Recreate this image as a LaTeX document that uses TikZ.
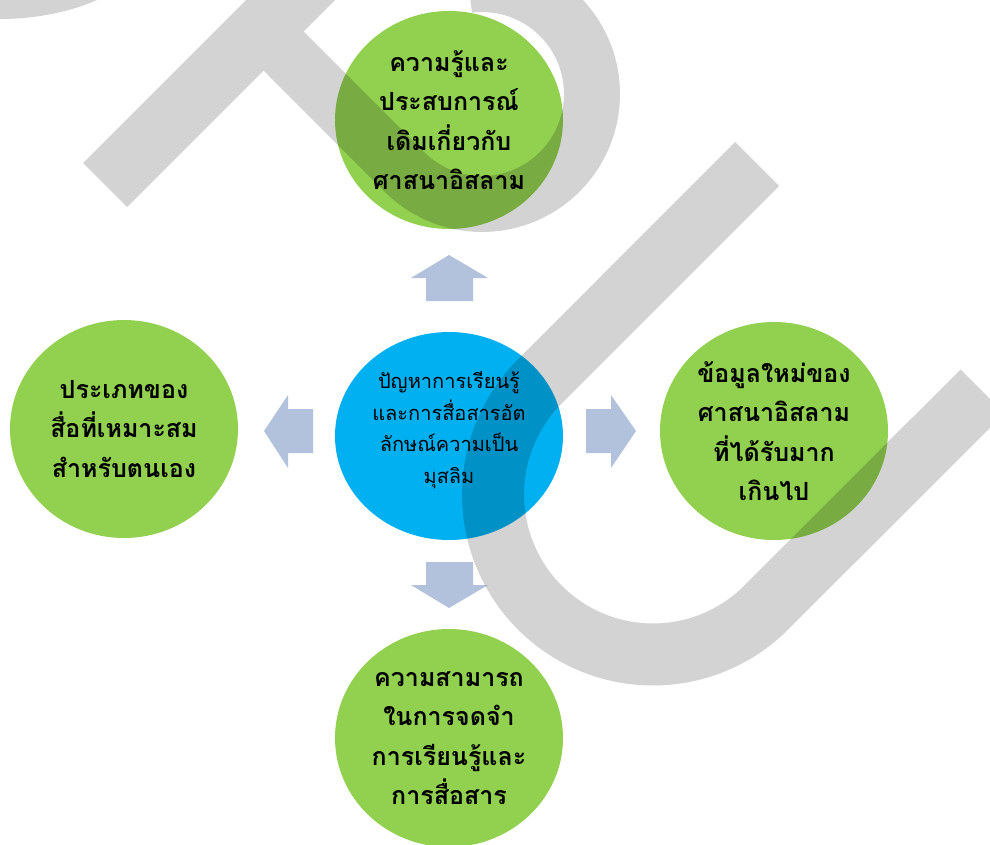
\documentclass[tikz,border=0pt]{standalone}
\usepackage{fontspec}
\newfontfamily\thaifont[Script=Thai]{Loma}
\usetikzlibrary{shapes.geometric}
\definecolor{cgreen}{RGB}{146,208,80}
\definecolor{cblue}{RGB}{0,176,240}
\definecolor{carrow}{RGB}{179,194,220}
\definecolor{wmgray}{RGB}{211,211,211}
\begin{document}
\begin{tikzpicture}[x=1pt,y=-1pt,
  bubble/.style={ellipse, minimum width=228pt, minimum height=218pt, inner sep=0pt, align=center, text=black},
  greenbubble/.style={bubble, fill=cgreen, font=\thaifont\bfseries\fontsize{25}{39.5}\selectfont},
  bluebubble/.style={bubble, fill=cblue, minimum height=208pt},
  bluetext/.style={align=center, inner sep=0pt, text=black, font=\thaifont\fontsize{20}{31.5}\selectfont},
  blockarrow/.style={fill=carrow},
  wm/.style={fill=wmgray}
]
\useasboundingbox (0,0) rectangle (990,845);
\fill[white] (0,0) rectangle (990,845);

\node[bluebubble] (c) at (449,436) {};
\node[bluetext] (ctext) at (449,430) {ปัญหาการเรียนรู้\\และการสื่อสารอัต\\ลักษณ์ความเป็น\\มุสลิม};
\node[greenbubble] (t) at (449,120) {ความรู้และ\\ประสบการณ์\\เดิมเกี่ยวกับ\\ศาสนาอิสลาม};
\node[greenbubble] (l) at (124,429) {ประเภทของ\\สื่อที่เหมาะสม\\สำหรับตนเอง};
\node[greenbubble] (r) at (774,431) {ข้อมูลใหม่ของ\\ศาสนาอิสลาม\\ที่ได้รับมาก\\เกินไป};
\node[greenbubble] (b) at (449,738) {ความสามารถ\\ในการจดจำ\\การเรียนรู้และ\\การสื่อสาร};

% block arrows
\fill[blockarrow] (449,255) -- (488,278) -- (473,278) -- (473,301) -- (426,301) -- (426,278) -- (411,278) -- cycle;
\fill[blockarrow] (449,608) -- (488,585) -- (473,585) -- (473,562) -- (426,562) -- (426,585) -- (411,585) -- cycle;
\fill[blockarrow] (264,431) -- (288,395) -- (288,409) -- (313,409) -- (313,453) -- (288,453) -- (288,468) -- cycle;
\fill[blockarrow] (636,431) -- (611,395) -- (611,409) -- (586,409) -- (586,453) -- (611,453) -- (611,468) -- cycle;

% watermark
\begin{scope}[blend mode=multiply]
\clip (0,0) rectangle (990,845);
\fill[wm] (-5,-5) -- (100,-5) -- (97,0) .. controls (70,12) and (35,19) .. (0,19) -- (-5,19) -- cycle;
\fill[wm] (83,163) -- (266,-20) -- (355,-20) -- (303.5,31.5)
  -- plot[domain=0:232, samples=90] ({482+82*cos(135-\x)},{94+82*sin(135-\x)})
  -- plot[domain=0:232, samples=90] ({482+138*cos(-97+\x)},{94+138*sin(-97+\x)})
  -- (263.5,70.5) -- (127,207) -- cycle;
\fill[wm] (735,142) -- (779,186)
  -- plot[domain=0:180, samples=90] ({653+129*cos(225-\x)},{494.5+129*sin(225-\x)})
  -- (960.5,369.5) -- (1004.5,413.5)
  -- plot[domain=0:180, samples=90] ({653+191*cos(45+\x)},{494.5+191*sin(45+\x)})
  -- cycle;
\end{scope}
\end{tikzpicture}
\end{document}
